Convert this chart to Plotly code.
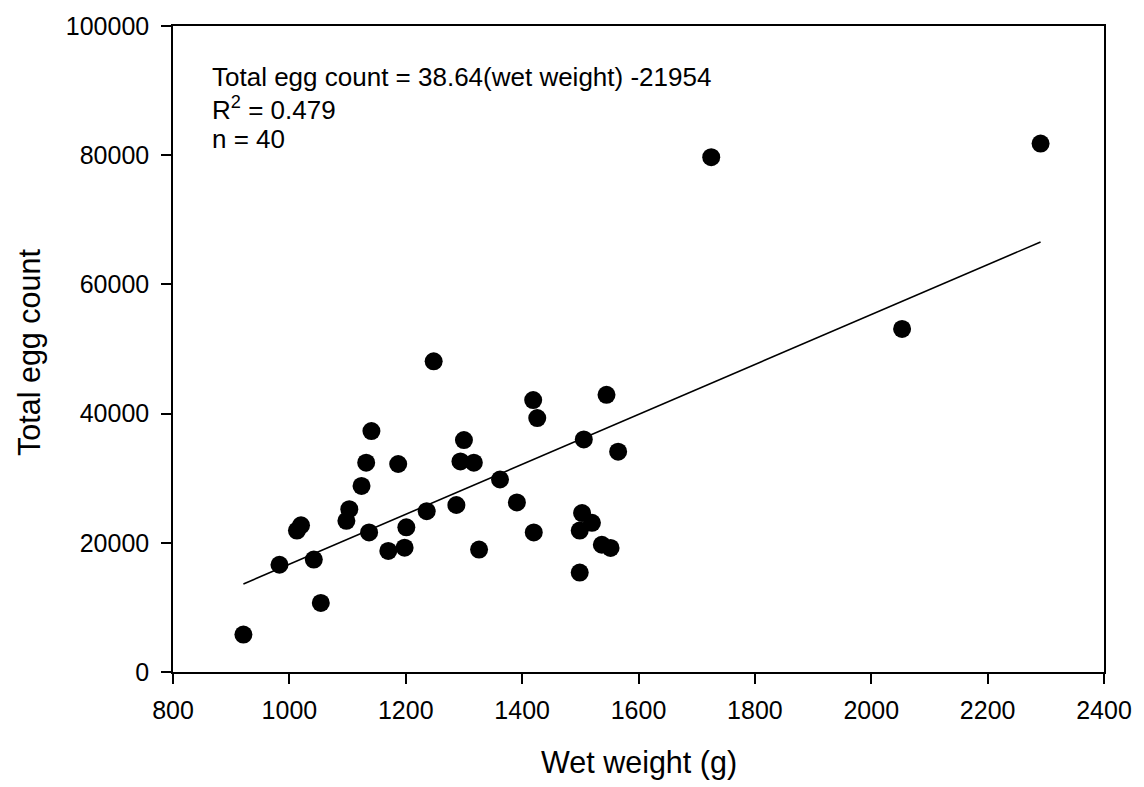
import plotly.graph_objects as go

wet_weight = [921, 983, 1042, 1054, 1013, 1020, 1098, 1103, 1124, 1132,
              1141, 1137, 1170, 1187, 1198, 1201, 1236, 1287, 1294, 1300,
              1248, 1317, 1362, 1391, 1326, 1419, 1426, 1420, 1499, 1503,
              1520, 1499, 1537, 1552, 1506, 1545, 1565, 1725, 2291, 2053]
egg_count = [5800, 16600, 17400, 10700, 21900, 22700, 23400, 25200, 28800, 32400,
             37300, 21600, 18750, 32200, 19250, 22400, 24900, 25850, 32600, 35900,
             48100, 32400, 29800, 26250, 18950, 42100, 39300, 21600, 21900, 24600,
             23100, 15400, 19700, 19200, 36000, 42900, 34100, 79700, 81800, 53100]

slope = 38.64
intercept = -21954
r_squared = 0.479
n_obs = 40

x_ticks = [800, 1000, 1200, 1400, 1600, 1800, 2000, 2200, 2400]
y_ticks = [0, 20000, 40000, 60000, 80000, 100000]

fit_x = [min(wet_weight), max(wet_weight)]
fit_y = [slope * v + intercept for v in fit_x]

FONT = "Liberation Sans, Arial, sans-serif"

fig = go.Figure()
fig.add_trace(go.Scatter(x=wet_weight, y=egg_count, mode="markers",
                         marker=dict(size=18, color="black", line=dict(width=0)),
                         showlegend=False, hoverinfo="x+y"))
fig.add_trace(go.Scatter(x=fit_x, y=fit_y, mode="lines",
                         line=dict(color="black", width=1.6),
                         showlegend=False, hoverinfo="skip"))

axis_common = dict(showgrid=False, zeroline=False, showline=True, linecolor="black",
                   linewidth=1.5, mirror=True, ticks="outside", ticklen=10,
                   tickwidth=1.5, tickcolor="black",
                   tickfont=dict(family=FONT, size=25, color="black"))

fig.update_xaxes(range=[800, 2400], tickmode="array", tickvals=x_ticks,
                 ticktext=[str(v) for v in x_ticks], ticklabelstandoff=5,
                 **axis_common)
fig.update_yaxes(range=[0, 100000], tickmode="array", tickvals=y_ticks,
                 ticktext=[str(v) for v in y_ticks], ticklabelstandoff=7,
                 **axis_common)

L, R, T, B = 173, 40, 20, 115
W, H = 1144, 787
pw, ph = W - L - R, H - T - B

def px_x(p):
    return (p - L) / pw

def px_y(p):
    return (H - B - p) / ph

ann_font = dict(family=FONT, size=26, color="black")
lines = [f"Total egg count = {slope}(wet weight) {intercept}",
         f"R<sup>2</sup> = {r_squared}",
         f"n = {n_obs}"]
line_bottoms = [89, 122, 151]

annotations = [
    dict(text=t, xref="paper", yref="paper", x=px_x(210), y=px_y(yb),
         xanchor="left", yanchor="bottom", align="left", showarrow=False,
         font=ann_font)
    for t, yb in zip(lines, line_bottoms)
]
annotations += [
    dict(text="Wet weight (g)", xref="paper", yref="paper",
         x=px_x(639), y=px_y(763), xanchor="center", yanchor="middle",
         showarrow=False, font=dict(family=FONT, size=30.5, color="black")),
    dict(text="Total egg count", xref="paper", yref="paper",
         x=px_x(30), y=px_y(350), xanchor="center", yanchor="middle",
         textangle=-90, showarrow=False,
         font=dict(family=FONT, size=30.5, color="black")),
]

fig.update_layout(width=W, height=H, margin=dict(l=L, r=R, t=T, b=B),
                  paper_bgcolor="white", plot_bgcolor="white",
                  annotations=annotations,
                  font=dict(family=FONT, color="black"))

fig.write_html("out.html")
